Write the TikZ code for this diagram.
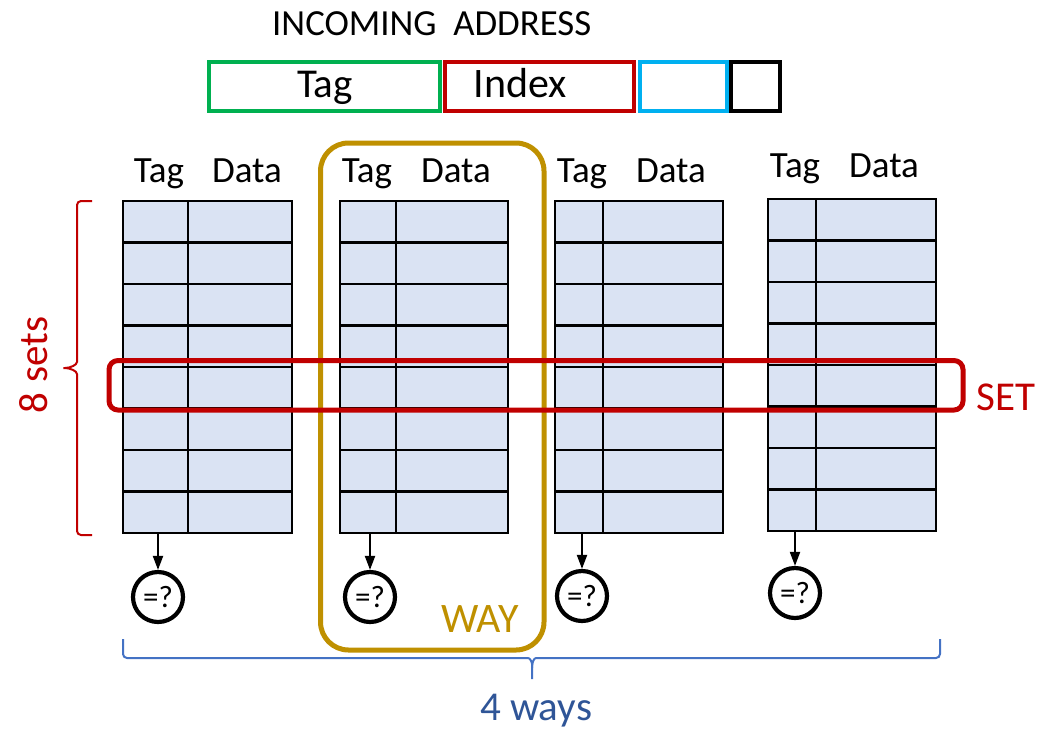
\documentclass[tikz,border=0pt]{standalone}
\usepackage{fontspec}
\setmainfont{Carlito}
\usetikzlibrary{arrows.meta}

\definecolor{cellfill}{HTML}{DAE3F3}
\definecolor{setred}{HTML}{C00000}
\definecolor{taggreen}{HTML}{00B050}
\definecolor{offblue}{HTML}{00B0F0}
\definecolor{waygold}{HTML}{BF9000}
\definecolor{braceblue}{HTML}{4472C4}
\definecolor{waystext}{HTML}{2F5597}

\newcommand{\fs}[1]{\fontsize{#1}{#1}\selectfont}

% one cache way: name, left, tag/data divider, right, top, bottom
\newcommand{\waytable}[6]{%
  \fill[cellfill] (#2,#5) rectangle (#4,#6);
  \foreach \k in {1,...,7}{%
    \draw[gridline] (#2,{#5+\k*(#6-#5)/8}) -- (#4,{#5+\k*(#6-#5)/8});}
  \draw[gridline] (#3,#5) -- (#3,#6);
  \draw[gridline] (#2,#5) rectangle (#4,#6);
  \coordinate (#1) at ({(#2+#3)/2},#6);
}

\begin{document}
\begin{tikzpicture}[x=1pt,y=-1pt,
  gridline/.style={black,line width=2.5pt},
  field/.style={line width=4pt},
  hdr/.style={anchor=base,inner sep=0pt,font=\fs{37}},
  cmp/.style={circle,draw=black,line width=4.2pt,minimum size=50pt,inner sep=0pt,font=\fs{31}},
  arr/.style={black,line width=2pt,-{Triangle[length=14pt,width=10pt]}}]
\useasboundingbox (0,0) rectangle (1038,729);

% incoming address fields
\node[anchor=base west,inner sep=0pt,font=\fs{36.8}] (addr) at (272,35) {INCOMING~~ADDRESS};
\draw[field,taggreen] (209,61.5) rectangle (440,110.5);
\draw[field,offblue] (639.5,61.5) rectangle (726.5,110.5);
\draw[field,black] (731,61.5) rectangle (779.5,110.5);
\draw[field,setred] (445,61.5) rectangle (634,110.5);
\node[anchor=base,inner sep=0pt,font=\fs{41}] (ftag) at (325,97) {Tag};
\node[anchor=base,inner sep=0pt,font=\fs{42}] (findex) at (520,97) {Index};

% column headers
\node[hdr] (h1t) at (159,182) {Tag};   \node[hdr] (h1d) at (247,182) {Data};
\node[hdr] (h2t) at (367,182) {Tag};   \node[hdr] (h2d) at (456,182) {Data};
\node[hdr] (h3t) at (582,182) {Tag};   \node[hdr] (h3d) at (671,182) {Data};
\node[hdr] (h4t) at (795,177) {Tag};   \node[hdr] (h4d) at (884,177) {Data};

% the four ways
\waytable{t1}{123}{188}{292}{201}{533}
\waytable{t2}{340}{396}{508}{201}{533}
\waytable{t3}{555}{603}{723}{201}{533}
\waytable{t4}{768}{816}{936}{199}{531}

% tag comparators
\node[cmp] (c1) at (158,597) {=?};
\node[cmp] (c2) at (370,597) {=?};
\node[cmp] (c3) at (582,596) {=?};
\node[cmp] (c4) at (795,593) {=?};
\draw[arr] (c1 |- t1) -- (c1);
\draw[arr] (c2 |- t2) -- (c2);
\draw[arr] (c3 |- t3) -- (c3);
\draw[arr] (c4 |- t4) -- (c4);

% one way highlighted
\draw[waygold,line width=5pt,rounded corners=28pt] (320.5,143) rectangle (544,650);
\node[anchor=base,inner sep=0pt,text=waygold,font=\fs{42}] (way) at (480,632) {WAY};

% one set highlighted
\draw[setred,line width=5pt,rounded corners=9pt] (109,360.5) rectangle (963,410);
\node[anchor=base west,inner sep=0pt,text=setred,font=\fs{41}] (set) at (976,410) {SET};

% brace over the sets
\draw[setred,line width=2pt,rounded corners=4pt]
  (92,201) -- (77,201) -- (77,358)
  .. controls (77,365) and (70,368) .. (61,368)
  .. controls (70,368) and (77,371) .. (77,378)
  -- (77,535) -- (92,535);
\node[anchor=base,rotate=90,inner sep=0pt,text=setred,font=\fs{41}] (sets) at (47,365) {8 sets};

% brace under the ways
\draw[braceblue,line width=2pt,rounded corners=4pt]
  (123,639) -- (123,658) -- (524,658)
  .. controls (530,658) and (532,662) .. (532,668) -- (532,679);
\draw[braceblue,line width=2pt,rounded corners=4pt]
  (940,639) -- (940,658) -- (540,658)
  .. controls (534,658) and (532,662) .. (532,668);
\node[anchor=base,inner sep=0pt,text=waystext,font=\fs{41}] (ways) at (536,720) {4 ways};
\end{tikzpicture}
\end{document}
